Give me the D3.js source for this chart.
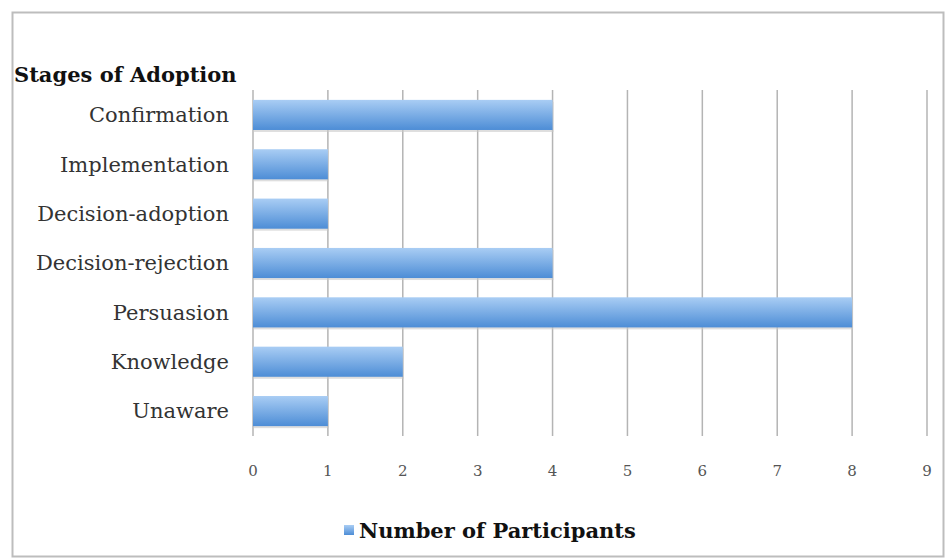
<script src="https://d3js.org/d3.v7.min.js"></script>
<style>
  body { margin: 0; background: #fff; }
  text { font-family: "DejaVu Serif", "Liberation Serif", serif; }
</style>
<svg id="vis"></svg>
<script>
  // chart data
  var stages = ["Confirmation", "Implementation", "Decision-adoption", "Decision-rejection",
                "Persuasion", "Knowledge", "Unaware"];
  var participants = [4, 1, 1, 4, 8, 2, 1];
  var xTicks = [0, 1, 2, 3, 4, 5, 6, 7, 8, 9];
  var seriesName = "Number of Participants";
  var axisTitle = "Stages of Adoption";

  var W = 946, H = 560;
  var margin = {top: 90, left: 253, right: 19, bottom: 124};

  var svg = d3.select("#vis").attr("width", W).attr("height", H);

  // outer frame
  svg.append("rect")
    .attr("x", 12.5).attr("y", 12.5)
    .attr("width", W - 15).attr("height", H - 16)
    .attr("fill", "#fff").attr("stroke", "#bdbdbd").attr("stroke-width", 2);

  var defs = svg.append("defs");
  var grad = defs.append("linearGradient").attr("id", "barGrad")
    .attr("x1", 0).attr("y1", 0).attr("x2", 0).attr("y2", 1);
  grad.append("stop").attr("offset", "0%").attr("stop-color", "#a9cdf4");
  grad.append("stop").attr("offset", "100%").attr("stop-color", "#4d8dd6");

  var x = d3.scaleLinear().domain([0, 9]).range([margin.left, 927]);
  var y = d3.scaleBand().domain(stages).range([margin.top, 436]).paddingInner(0.39).paddingOuter(0.2);

  // gridlines
  svg.append("g").selectAll("line").data(xTicks).enter().append("line")
    .attr("x1", function(d) { return x(d); })
    .attr("x2", function(d) { return x(d); })
    .attr("y1", margin.top).attr("y2", 436)
    .attr("stroke", "#b4b4b4").attr("stroke-width", 1.5);

  // bar shadows
  svg.append("g").selectAll("rect").data(stages).enter().append("rect")
    .attr("x", x(0) + 1)
    .attr("y", function(d) { return y(d) + 2; })
    .attr("width", function(d, i) { return x(participants[i]) - x(0); })
    .attr("height", y.bandwidth())
    .attr("fill", "#c8c8c8").attr("opacity", 0.6);

  // bars
  svg.append("g").selectAll("rect").data(stages).enter().append("rect")
    .attr("x", x(0))
    .attr("y", function(d) { return y(d); })
    .attr("width", function(d, i) { return x(participants[i]) - x(0); })
    .attr("height", y.bandwidth())
    .attr("fill", "url(#barGrad)");

  // x tick labels
  svg.append("g").selectAll("text").data(xTicks).enter().append("text")
    .attr("x", function(d) { return x(d); })
    .attr("y", 476)
    .attr("text-anchor", "middle")
    .style("font-size", "15px")
    .attr("fill", "#555")
    .text(function(d) { return d; });

  // category labels
  svg.append("g").selectAll("text").data(stages).enter().append("text")
    .attr("x", 229)
    .attr("y", function(d) { return y(d) + y.bandwidth() / 2; })
    .attr("dy", "0.35em")
    .attr("text-anchor", "end")
    .style("font-size", "21px")
    .attr("fill", "#333")
    .text(function(d) { return d; });

  // axis title
  svg.append("text")
    .attr("x", 14).attr("y", 82)
    .style("font-size", "21px").style("font-weight", "bold")
    .attr("fill", "#111")
    .text(axisTitle);

  // legend
  svg.append("rect")
    .attr("x", 344).attr("y", 525).attr("width", 10).attr("height", 10)
    .attr("fill", "url(#barGrad)");
  svg.append("text")
    .attr("x", 359).attr("y", 531)
    .attr("dy", "0.35em")
    .style("font-size", "21px").style("font-weight", "bold")
    .attr("fill", "#111")
    .text(seriesName);
</script>
